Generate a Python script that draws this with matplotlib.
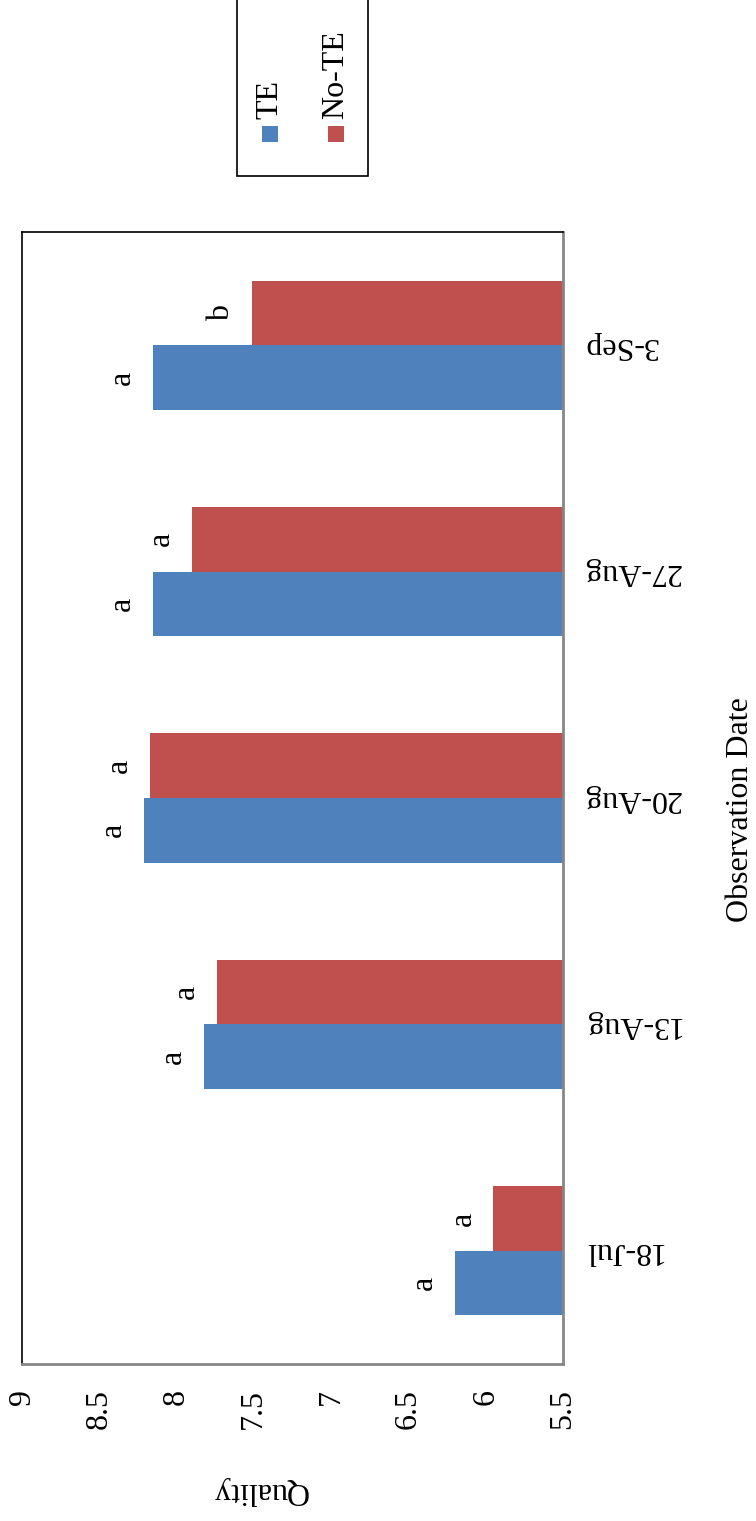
import numpy as np
import matplotlib
matplotlib.use("Agg")
import matplotlib.pyplot as plt
from matplotlib.patches import Rectangle

plt.rcParams['font.family'] = ['Liberation Serif', 'DejaVu Serif']

dates = ['18-Jul', '13-Aug', '20-Aug', '27-Aug', '3-Sep']
te_quality = [6.20, 7.82, 8.21, 8.15, 8.15]
no_te_quality = [5.95, 7.74, 8.17, 7.90, 7.51]
te_letters = ['a', 'a', 'a', 'a', 'a']
no_te_letters = ['a', 'a', 'a', 'a', 'b']
quality_ticks = [5.5, 6, 6.5, 7, 7.5, 8, 8.5, 9]
series_names = ['TE', 'No-TE']

BLUE = '#4F81BD'
RED = '#C0504D'
AXIS_GRAY = '#868686'
FS = 23
base = 5.5

W, H = 756, 1521
fig = plt.figure(figsize=(W / 100, H / 100), dpi=100)
ax = fig.add_axes([22 / W, 1 - 1364 / H, (563 - 22) / W, (1364 - 232) / H])

y = np.arange(len(dates))
h = 1 / 3.5  # gap width 150%

te = np.array(te_quality)
no_te = np.array(no_te_quality)
ax.barh(y - h / 2, te - base, left=base, height=h, color=BLUE, linewidth=0)
ax.barh(y + h / 2, no_te - base, left=base, height=h, color=RED, linewidth=0)

# significance letters beside the bar ends
for yi, v, s in zip(y - h / 2, te, te_letters):
    ax.annotate(s, xy=(v, yi), xytext=(-22, 0), textcoords='offset points',
                ha='center', va='center', rotation=90, fontsize=FS)
for yi, v, s in zip(y + h / 2, no_te, no_te_letters):
    ax.annotate(s, xy=(v, yi), xytext=(-22, 0), textcoords='offset points',
                ha='center', va='center', rotation=90, fontsize=FS)

ax.set_xlim(9, base)
ax.set_ylim(-0.5, len(dates) - 0.5)

ax.set_xticks(quality_ticks)
ax.set_xticklabels([f'{t:g}' for t in quality_ticks], rotation=90, fontsize=FS)
ax.tick_params(axis='x', length=0, pad=18)

ax.yaxis.tick_right()
ax.set_yticks(y)
ax.set_yticklabels(dates, rotation=180, fontsize=FS, va='center')
ax.tick_params(axis='y', length=0, pad=14)

ax.set_xlabel('Quality', fontsize=FS, rotation=180, va='center')
ax.xaxis.set_label_coords((260 - 22) / 541, -(1490 - 1364) / 1132)
ax.yaxis.set_label_position('right')
ax.set_ylabel('Observation Date', fontsize=FS, rotation=90, va='center')
ax.yaxis.set_label_coords((741 - 22) / 541, 1 - (810 - 232) / 1132)

for side in ['top', 'left']:
    ax.spines[side].set_color('black')
    ax.spines[side].set_linewidth(1.2)
for side in ['bottom', 'right']:
    ax.spines[side].set_color(AXIS_GRAY)
    ax.spines[side].set_linewidth(2)

# legend box, drawn in figure pixels
def fx(px):
    return px / W

def fy(py):
    return 1 - py / H

fig.add_artist(Rectangle((fx(237), fy(176)), fx(368) - fx(237), fy(-5) - fy(176),
                         transform=fig.transFigure, facecolor='white',
                         edgecolor='black', linewidth=1.2))
for cx, name, col in zip([270, 336], series_names, [BLUE, RED]):
    fig.add_artist(Rectangle((fx(cx - 8), fy(142)), 16 / W, 16 / H,
                             transform=fig.transFigure, facecolor=col, edgecolor='none'))
    fig.text(fx(cx), fy(119), name, rotation=90, ha='center', va='bottom', fontsize=FS)

fig.savefig('out.png', dpi=100, facecolor='white')
